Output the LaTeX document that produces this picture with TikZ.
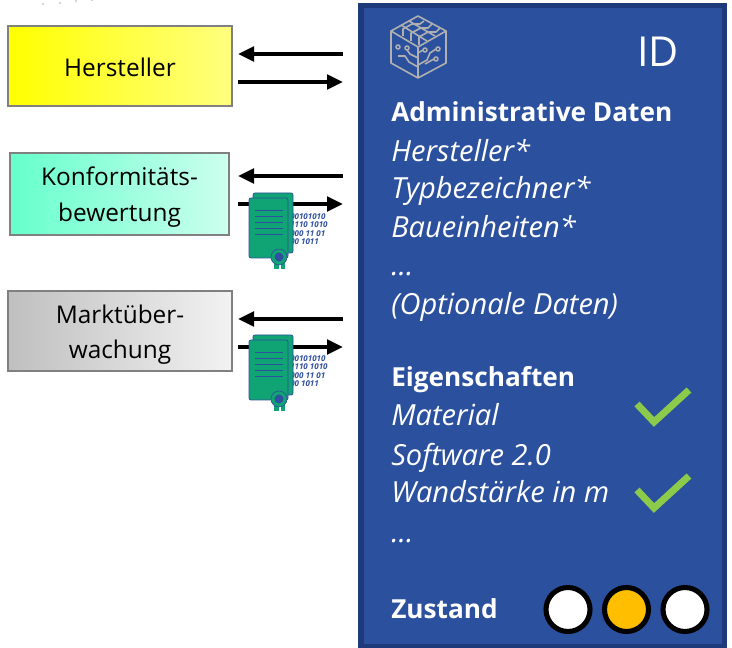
\documentclass[tikz,border=0pt]{standalone}
\usepackage{fontspec}
\setmainfont{Open Sans}
\usetikzlibrary{arrows.meta}
\definecolor{paneblue}{HTML}{2B509E}
\definecolor{paneedge}{HTML}{1F3A7A}
\definecolor{certgreen}{HTML}{10A474}
\definecolor{certblue}{HTML}{2F4F9F}
\definecolor{tickgreen}{HTML}{8CCB4A}
\definecolor{cubegray}{HTML}{B0B0B0}
\definecolor{mintleft}{HTML}{66FFCC}
\definecolor{mintright}{HTML}{CCFFEE}
\newcommand{\toppad}[1]{\rule{0pt}{#1pt}}
\tikzset{
  actor/.style={draw=gray,line width=1.5pt,minimum width=168pt,align=center,font=\fontsize{18.3}{26.5}\selectfont},
  flow/.style={->,line width=2.5pt},
  head/.style={anchor=base west,text=white,inner sep=0pt,font=\fontsize{19.65}{24}\selectfont\bfseries},
  entry/.style={anchor=base west,text=white,inner sep=0pt,font=\fontsize{21.8}{24}\selectfont\itshape},
  tick/.style={draw=tickgreen,line width=5.2pt},
  lamp/.style={circle,draw=black,line width=3.8pt,minimum size=33pt,inner sep=0pt},
  certdoc/.pic={
    \node[text=certblue,anchor=north west,inner sep=0pt,align=left,font=\fontsize{6}{6.4}\selectfont\bfseries\itshape] (bits) at (40,20) {00101010\\1110 1010\\000 11 01\\00 1011};
    \filldraw[draw=certblue,fill=certgreen,line width=.6pt,rounded corners=1.5pt] (3,0) rectangle (43,60);
    \filldraw[draw=certblue,fill=certgreen,line width=.6pt,rounded corners=1.5pt] (-1,5) rectangle (38,65);
    \foreach \ly in {17,23,29,35,41} \draw[certblue,line width=.7pt] (5,\ly)--(33,\ly);
    \fill[certgreen] (24,66) rectangle (28.5,76);
    \fill[certgreen] (30.5,66) rectangle (35,76);
    \filldraw[draw=certblue,fill=certgreen,line width=.5pt] (29,64) circle[radius=8];
    \fill[certblue] (29,64) circle[radius=4.5];
  }
}
\begin{document}
\begin{tikzpicture}[x=0.75pt,y=-0.75pt,>={Triangle[length=12pt,width=11pt]}]
  \useasboundingbox (0,0) rectangle (732,648);
  % faint remains above the boxes
  \foreach \dx/\dy in {43/4,60/3,76/1,92/0}
    \fill[gray!45] (\dx,\dy) circle[radius=1.2];
  % left column
  \node[actor,minimum height=60pt,left color=yellow,right color=yellow!50] (hersteller) at (120,66.5) {\toppad{15}Hersteller};
  \node[actor,minimum width=164pt,minimum height=61.5pt,left color=mintleft,right color=mintright] (konform) at (119.5,194.5) {\toppad{18}Konformitäts-\\bewertung};
  \node[actor,minimum height=60pt,left color=black!25,right color=black!5] (markt) at (120,331.5) {\toppad{19}Marktüber-\\wachung};
  % panel
  \filldraw[draw=paneedge,fill=paneblue,line width=4.1pt] (361,5.5) rectangle (724.5,646.5);
  % cube
  \begin{scope}[draw=cubegray,line width=1.2pt,line join=round]
    \draw (418,16)--(446,31)--(446,63)--(418,78)--(391,63)--(391,31)--cycle;
    \draw (391,31)--(418,47)--(446,31) (418,47)--(418,78);
    \draw (401,25)--(427,41) (409,21)--(435,36);
    \draw (403,36)--(403,29)--(412,24)--(420,24)--(424,21);
    \draw (411,41)--(411,33)--(421,28)--(428,28)--(432,24);
    \draw (419,45)--(419,37)--(428,32)--(436,32)--(440,28);
    \draw (398,47) circle[radius=2] (407,48) circle[radius=2] (425,50) circle[radius=2] (438,49) circle[radius=2] (436,59) circle[radius=2];
    \draw (398,56)--(405,56)--(409,62)--(418,67);
    \draw (407,50)--(410,54)--(418,58);
    \draw (423,50)--(418,53);
    \draw (436,49)--(430,53)--(427,60)--(418,65);
    \draw (434,59)--(425,64);
  \end{scope}
  \node[text=white,anchor=base,inner sep=0pt,font=\fontsize{31}{34}\selectfont] (idlabel) at (658,67) {ID};
  % panel text
  \node[head]  (admin)   at (391,122) {Administrative Daten};
  \node[entry] (herst)   at (391,162) {Hersteller*};
  \node[entry] (typ)     at (391,199) {Typbezeichner*};
  \node[entry] (bau)     at (391,238) {Baueinheiten*};
  \node[entry] (dotsa)   at (391,276) {…};
  \node[entry] (option)  at (391,315) {(Optionale Daten)};
  \node[head]  (eigen)   at (391,387) {Eigenschaften};
  \node[entry] (material) at (391,426) {Material};
  \node[entry] (software) at (391,465) {Software 2.0};
  \node[entry] (wand)    at (391,503) {Wandstärke in m};
  \node[entry] (dotsb)   at (391,542) {…};
  \node[head]  (zustand) at (391,618) {Zustand};
  % ticks
  \draw[tick] (637,404)--(654,422)--(689,390);
  \draw[tick] (637,490)--(654,508)--(689,476);
  % state lamps
  \node[lamp,fill=white] (lampa) at (568,609.5) {};
  \node[lamp,fill=orange!50!yellow] (lampb) at (626.5,609.5) {};
  \node[lamp,fill=white] (lampc) at (685,609.5) {};
  % arrows
  \foreach \src/\ya/\yb in {hersteller/54/82,konform/176/204,markt/319/347}{
    \coordinate (\src-in) at (343,\ya);
    \coordinate (\src-inend) at (238,\ya);
    \coordinate (\src-out) at (238,\yb);
    \coordinate (\src-outend) at (343,\yb);
    \draw[flow] (\src-in)--(\src-inend);
    \draw[flow] (\src-out)--(\src-outend);
  }
  % certificates
  \pic at (250,193) {certdoc};
  \pic at (250,335) {certdoc};
\end{tikzpicture}
\end{document}
